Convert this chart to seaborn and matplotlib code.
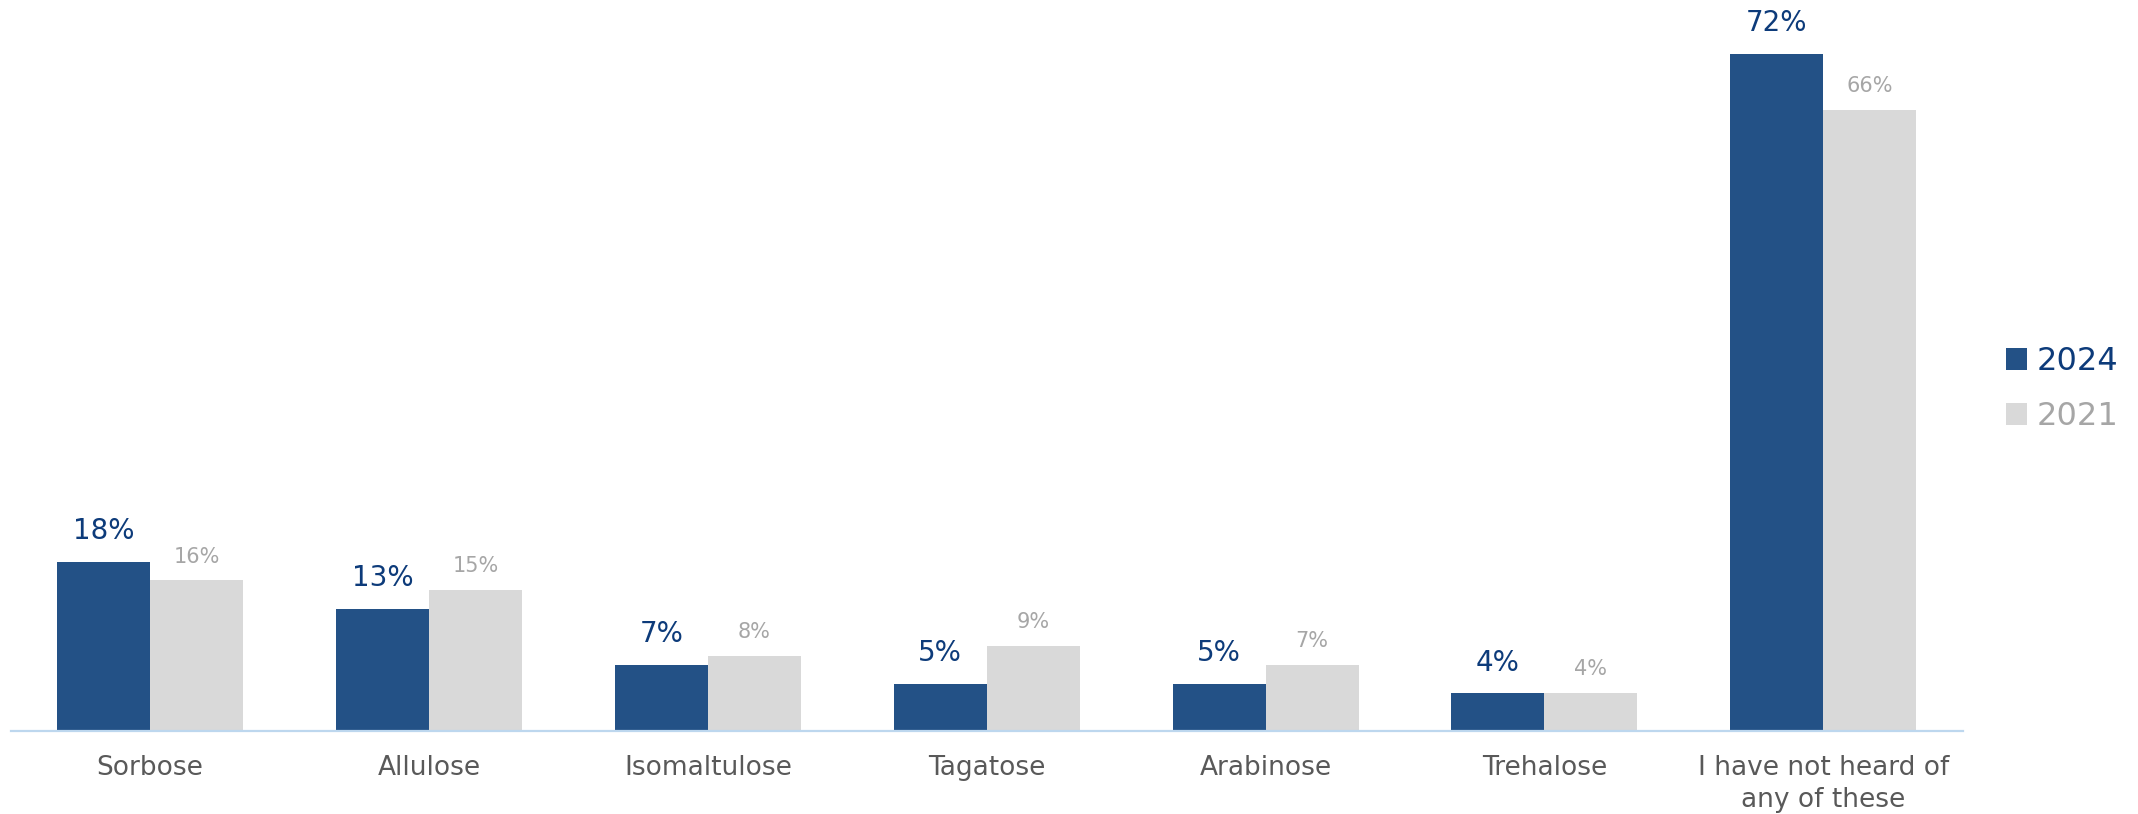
import matplotlib
matplotlib.use("Agg")
import matplotlib.pyplot as plt
import seaborn as sns
import pandas as pd
from matplotlib.patches import Patch

categories = ["Sorbose", "Allulose", "Isomaltulose", "Tagatose", "Arabinose",
              "Trehalose", "I have not heard of\nany of these"]
values_2024 = [18, 13, 7, 5, 5, 4, 72]
values_2021 = [16, 15, 8, 9, 7, 4, 66]
series = ["2024", "2021"]

BLUE = "#235186"
GRAY = "#D9D9D9"
BLUE_TXT = "#0D3B7A"
GRAY_TXT = "#A6A6A6"
AXIS_TXT = "#595959"

df = pd.DataFrame({
    "category": categories * 2,
    "year": [series[0]] * len(categories) + [series[1]] * len(categories),
    "value": values_2024 + values_2021,
})

sns.set_theme(style="white")
plt.rcParams["font.family"] = ["DejaVu Sans"]

fig = plt.figure(figsize=(21.38, 8.14), dpi=100)
ax = fig.add_axes([0.005, 0.102, 0.913, 0.898])

sns.barplot(data=df, x="category", y="value", hue="year", order=categories,
            hue_order=series, palette=[BLUE, GRAY], width=0.667, gap=0,
            saturation=1, ax=ax, legend=False, linewidth=0)

ax.set_xlim(-0.5, len(categories) - 0.5)
ax.set_ylim(0, 77.7)
ax.set_xlabel("")
ax.set_ylabel("")
ax.set_yticks([])
for s in ["top", "right", "left"]:
    ax.spines[s].set_visible(False)
ax.spines["bottom"].set_color("#BDD7EE")
ax.spines["bottom"].set_linewidth(1.6)
ax.tick_params(axis="x", length=0, pad=17, labelsize=19, labelcolor=AXIS_TXT)
for t in ax.get_xticklabels():
    t.set_linespacing(1.3)

# data labels
cont_2024, cont_2021 = ax.containers[0], ax.containers[1]
for bar, v in zip(cont_2024, values_2024):
    ax.annotate(f"{v}%", (bar.get_x() + bar.get_width() / 2, bar.get_height()),
                xytext=(0, 12), textcoords="offset points", ha="center",
                va="bottom", fontsize=20, color=BLUE_TXT)
for bar, v in zip(cont_2021, values_2021):
    ax.annotate(f"{v}%", (bar.get_x() + bar.get_width() / 2, bar.get_height()),
                xytext=(0, 10), textcoords="offset points", ha="center",
                va="bottom", fontsize=15, color=GRAY_TXT)

handles = [Patch(facecolor=BLUE, edgecolor="none"), Patch(facecolor=GRAY, edgecolor="none")]
leg = fig.legend(handles, series, loc="center left", bbox_to_anchor=(0.925, 0.522),
                 frameon=False, fontsize=23, handlelength=0.65, handleheight=0.65,
                 handletextpad=0.3, labelspacing=0.75)
for txt, c in zip(leg.get_texts(), [BLUE_TXT, GRAY_TXT]):
    txt.set_color(c)

fig.savefig("out.png", dpi=100)
